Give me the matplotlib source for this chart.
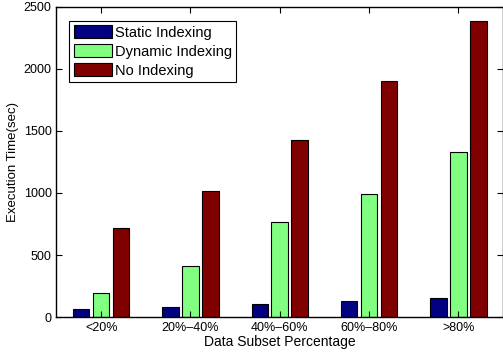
import numpy as np
import matplotlib.pyplot as plt

plt.rcParams['font.family'] = ['Liberation Sans', 'DejaVu Sans']

categories = ['<20%', '20%\u201340%', '40%\u201360%', '60%\u201380%', '>80%']
static_idx = [64, 84, 107, 131, 156]
dynamic_idx = [197, 414, 766, 989, 1333]
no_idx = [717, 1019, 1424, 1902, 2386]
series_names = ['Static Indexing', 'Dynamic Indexing', 'No Indexing']
colors = ['#000080', '#80ff80', '#800000']

fig = plt.figure(figsize=(5.03, 3.58), dpi=100)
ax = fig.add_axes([0.1123, 0.1145, 0.8877, 0.866])

x = np.arange(1, len(categories) + 1)
offsets = [-0.223, 0.0, 0.223]
width = 0.185
for vals, off, c, name in zip([static_idx, dynamic_idx, no_idx], offsets, colors, series_names):
    ax.bar(x + off, vals, width, color=c, edgecolor='black', linewidth=0.8, label=name)

ax.set_xlim(0.5, 5.5)
ax.set_ylim(0, 2500)
ax.set_xticks(x)
ax.set_xticklabels(categories, fontsize=9)
ax.set_yticks([0, 500, 1000, 1500, 2000, 2500])
ax.tick_params(axis='y', labelsize=9)
ax.tick_params(direction='in', top=True, right=True, length=4, width=0.8)
for s in ax.spines.values():
    s.set_linewidth(1.0)

ax.set_xlabel('Data Subset Percentage', fontsize=10, labelpad=1)
ax.set_ylabel('Execution Time(sec)', fontsize=9.5, labelpad=3)

leg = ax.legend(loc='upper left', bbox_to_anchor=(0.029, 0.955), fontsize=10.5,
                frameon=True, fancybox=False, edgecolor='black', framealpha=1,
                handlelength=2.6, handleheight=1.0, handletextpad=0.2,
                labelspacing=0.3, borderpad=0.3, borderaxespad=0)
leg.get_frame().set_linewidth(0.8)

fig.savefig('out.png', dpi=100)
